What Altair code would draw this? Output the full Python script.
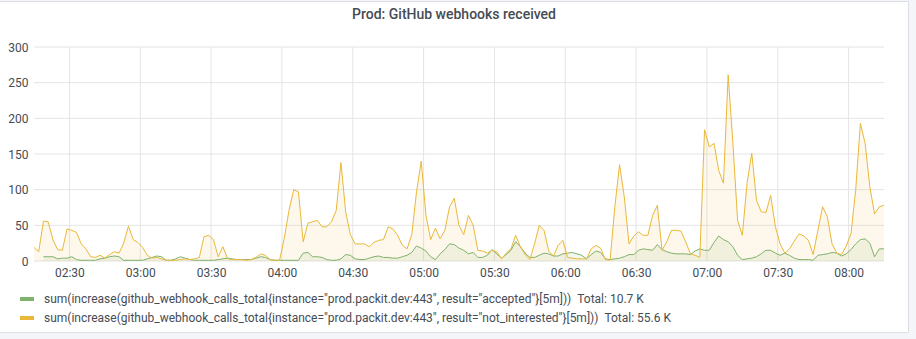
import altair as alt
import pandas as pd

# ---------------- data ----------------
day = "2021-06-01"
start_time = "02:15"
end_time = "08:15"
step = "2min"

series_names = [
    'sum(increase(github_webhook_calls_total{instance="prod.packit.dev:443", result="accepted"}[5m]))',
    'sum(increase(github_webhook_calls_total{instance="prod.packit.dev:443", result="not_interested"}[5m]))',
]
series_totals = ["10.7 K", "55.6 K"]
series_colors = ["#7eb26d", "#eab839"]

x_tick_labels = ["02:30", "03:00", "03:30", "04:00", "04:30", "05:00", "05:30",
                 "06:00", "06:30", "07:00", "07:30", "08:00"]
y_ticks = [0, 50, 100, 150, 200, 250, 300]

accepted = [
    None, None, 6, 6, 6, 3, 4, 4, 6, 2, 1, 1, 1, 1, 3, 4, 6, 7, 6, 1,
    1, 1, 1, 1, 3, 5, 7, 6, 1, 1, 3, 6, 4, 2, 1, 1, 1, 1, 1, 2,
    3, 4, 3, 2, 2, 2, 2, 4, 6, 5, 2, 1, 1, 1, 1, 1, 1, 11, 12, 6,
    6, 5, 2, 1, 1, 3, 9, 8, 3, 2, 2, 4, 6, 7, 5, 5, 4, 4, 6, 8,
    12, 21, 18, 14, 6, 2, 10, 16, 24, 23, 18, 15, 10, 12, 5, 5, 8, 16, 10, 4,
    9, 15, 27, 20, 11, 5, 5, 8, 11, 10, 7, 7, 10, 11, 12, 10, 8, 3, 9, 14,
    12, 3, 2, 3, 4, 6, 9, 9, 15, 17, 16, 15, 23, 16, 13, 11, 10, 10, 10, 9,
    14, 17, 15, 15, 26, 35, 30, 27, 20, 8, 2, 3, 4, 6, 10, 15, 15, 11, 8, 11,
    8, 4, 2, 2, 2, 1, 8, 9, 10, 12, 11, 7, 10, 16, 24, 30, 31, 25, 6, 17,
    17,
]

not_interested = [
    19, 13, 56, 55, 30, 16, 15, 45, 43, 40, 24, 17, 6, 5, 8, 4, 9, 13, 11, 25,
    49, 30, 26, 19, 8, 4, 5, 3, 1, 1, 1, 2, 3, 2, 3, 5, 34, 36, 30, 6,
    20, 3, 2, 2, 2, 1, 2, 5, 10, 8, 2, 1, 1, 32, 71, 100, 97, 27, 53, 55,
    57, 48, 48, 55, 71, 138, 69, 37, 24, 24, 24, 20, 26, 29, 30, 48, 45, 36, 22, 17,
    37, 97, 140, 64, 30, 46, 31, 43, 76, 88, 50, 37, 64, 50, 15, 14, 11, 15, 13, 3,
    11, 17, 36, 20, 9, 2, 24, 50, 43, 14, 7, 22, 29, 5, 4, 3, 3, 3, 17, 22,
    18, 2, 1, 76, 135, 90, 24, 35, 41, 36, 36, 64, 78, 15, 27, 43, 43, 42, 27, 10,
    8, 5, 184, 160, 165, 127, 109, 261, 165, 57, 36, 109, 151, 85, 69, 68, 92, 48, 24, 11,
    17, 28, 38, 35, 29, 9, 43, 76, 62, 24, 11, 9, 21, 38, 99, 193, 165, 104, 66, 76,
    78,
]

# ---------------- table ----------------
times = pd.date_range(f"{day} {start_time}", periods=len(accepted), freq=step)
rows = []
for name, vals in zip(series_names, [accepted, not_interested]):
    for t, v in zip(times, vals):
        if v is not None:
            rows.append({"time": t.strftime("%Y-%m-%dT%H:%M:%S"), "value": v, "series": name})
df = pd.DataFrame(rows)

grid_x = pd.DataFrame({"time": [f"{day}T{h}:00" for h in x_tick_labels]})
grid_y = pd.DataFrame({"value": y_ticks})

FONT = "Roboto"
TEXT = "#464c54"
GRID = "#e4e4e4"

label_expr = ""
for n, tot in zip(series_names, series_totals):
    label_expr += "datum.label == '%s' ? datum.label + '\u00a0\u00a0Total: %s' : " % (n, tot)
label_expr += "datum.label"

y0, m0, d0 = [int(p) for p in day.split("-")]


def dt(hhmm):
    h, m = [int(p) for p in hhmm.split(":")]
    return alt.DateTime(year=y0, month=m0, date=d0, hours=h, minutes=m)


x_scale = alt.Scale(domain=[dt(start_time), dt(end_time)], nice=False)
y_scale = alt.Scale(domain=[y_ticks[0], y_ticks[-1]], nice=False)

x_axis = alt.Axis(
    format="%H:%M", values=[dt(h) for h in x_tick_labels], title=None,
    grid=False, domain=False, ticks=False, labelPadding=6, labelFont=FONT,
    labelFontSize=12, labelColor=TEXT, labelFlush=False, zindex=1,
)
y_axis = alt.Axis(
    values=y_ticks, title=None, grid=False, domain=False, ticks=False,
    labelPadding=6, labelFont=FONT, labelFontSize=12, labelColor=TEXT, zindex=1,
)

color = alt.Color(
    "series:N",
    scale=alt.Scale(domain=series_names, range=series_colors),
    legend=alt.Legend(
        title=None, orient="none", legendX=-16, legendY=243, direction="vertical",
        symbolType="stroke", symbolSize=196, symbolStrokeWidth=4,
        labelFont=FONT, labelFontSize=12, labelColor=TEXT, labelLimit=2000,
        labelOffset=8, rowPadding=2, labelExpr=label_expr, zindex=1,
    ),
)

# panel decoration (white panel with a thin border on a light grey page)
panel = alt.Chart(alt.Data(values=[{}])).mark_rect(
    fill="white", stroke="#dcdfe4", strokeWidth=1
).encode(x=alt.value(-40), x2=alt.value(874.5), y=alt.value(-45.5), y2=alt.value(285.5))

vgrid = alt.Chart(grid_x).mark_rule(color=GRID, strokeWidth=1).encode(
    x=alt.X("time:T", scale=x_scale, axis=x_axis), y=alt.value(0), y2=alt.value(214)
)
hgrid = alt.Chart(grid_y).mark_rule(color=GRID, strokeWidth=1).encode(
    y=alt.Y("value:Q", scale=y_scale, axis=y_axis), x=alt.value(0), x2=alt.value(850)
)

base = alt.Chart(df)
areas = []
for name, col in zip(series_names, series_colors):
    areas.append(
        base.transform_filter(alt.datum.series == name)
        .mark_area(color=col, fillOpacity=0.1, interpolate="linear")
        .encode(
            x=alt.X("time:T", scale=x_scale, axis=x_axis),
            y=alt.Y("value:Q", scale=y_scale, axis=y_axis),
        )
    )
line = base.mark_line(strokeWidth=1, interpolate="linear").encode(
    x=alt.X("time:T", scale=x_scale, axis=x_axis),
    y=alt.Y("value:Q", scale=y_scale, axis=y_axis),
    color=color,
)

chart = alt.layer(panel, vgrid, hgrid, *areas, line).properties(
    width=850,
    height=214,
    autosize=alt.AutoSizeParams(type="none"),
    padding={"left": 34, "top": 47, "right": 32, "bottom": 78},
    background="#f4f5f8",
    title=alt.TitleParams(
        "Prod: GitHub webhooks received", anchor="middle", frame="group",
        font=FONT, fontSize=14, fontWeight=500, color=TEXT, offset=-21, dx=-5,
    ),
).configure_view(stroke=None)

chart.save("out.html", embed_options={"renderer": "svg", "actions": False})
